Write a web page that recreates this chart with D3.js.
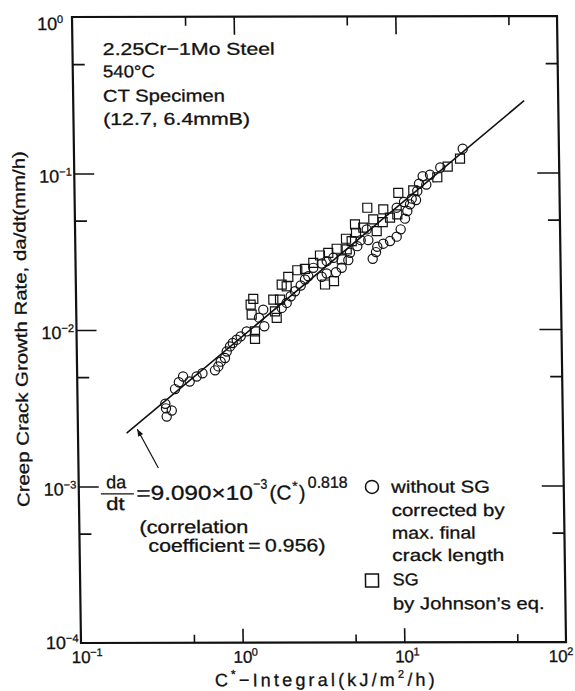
<!DOCTYPE html>
<html><head><meta charset="utf-8">
<script src="https://cdn.jsdelivr.net/npm/d3@7"></script>
<style>
html,body{margin:0;padding:0;background:#fff;}
svg{display:block;}
text{font-family:"Liberation Sans",Arial,sans-serif;fill:#111;stroke:#111;stroke-width:0.3;}
</style></head><body>
<svg id="chart" width="575" height="691"></svg>
<script>
// ---- data ----
const withoutSG_C = [0.355,0.382,0.352,0.349,0.402,0.425,0.452,0.496,0.548,0.596,
  0.713,0.748,0.775,0.824,0.846,0.887,0.923,0.977,1.035,1.129,
  1.436,1.452,1.349,1.867,2.007,2.128,2.264,2.459,2.617,2.745,
  2.953,3.332,3.579,3.934,3.323,3.570,4.076,4.424,4.869,4.995,
  5.550,5.833,6.500,6.367,6.892,7.234,7.378,8.040,8.851,9.745,
  10.33,11.01,11.40,9.804,10.89,11.86,12.16,12.93,13.19,13.54,
  15.02,14.29,15.86,18.39,25.41];
const withoutSG_rate = [0.00279,0.00305,0.00315,0.00337,0.00418,0.00462,0.00503,0.00467,0.00503,0.00527,
  0.00550,0.00583,0.00625,0.00659,0.00726,0.00782,0.00822,0.00863,0.00906,0.00975,
  0.01342,0.01050,0.01193,0.01376,0.01481,0.01632,0.01757,0.01911,0.02087,0.02191,
  0.02478,0.02641,0.02732,0.02871,0.02172,0.02279,0.02323,0.02478,0.02773,0.03091,
  0.03405,0.03720,0.03720,0.04355,0.02829,0.03119,0.03376,0.03528,0.03666,0.03912,
  0.04355,0.05098,0.0570,0.0599,0.0651,0.0629,0.0684,0.0670,0.0765,0.0851,
  0.0841,0.0950,0.0971,0.1080,0.1423];
const SG_C = [1.248,1.201,1.216,1.270,1.268,1.660,1.826,1.696,1.735,1.876,
  2.064,2.014,2.350,2.623,2.956,3.256,3.667,4.137,4.769,4.732,
  5.129,4.431,3.476,3.954,5.395,5.463,6.067,7.337,6.449,7.008,
  8.010,8.099,8.893,9.874,10.06,12.46,17.59,20.44,24.40];
const SG_rate = [0.01571,0.01444,0.01247,0.00975,0.00872,0.01555,0.01555,0.01309,0.01188,0.01939,
  0.02172,0.01891,0.02393,0.02443,0.02668,0.02971,0.03091,0.03279,0.03245,0.03798,
  0.03666,0.02802,0.01939,0.02035,0.04688,0.04148,0.04466,0.04247,0.0599,0.05046,
  0.04849,0.05844,0.05173,0.05430,0.0745,0.0773,0.0936,0.1095,0.1232];
const fitC = [0.2, 61.5];
const fitRate = [0.00219, 0.288];
const arrowC = [0.312, 0.233];
const arrowRate = [0.00131, 0.00232];
const xMajorTicks = [0.1, 1, 10, 100];
const xTickExp = ["\u22121","0","1","2"];
const xMinorTicks = [0.5, 5, 50];
const yMajorTicks = [1, 0.1, 0.01, 0.001, 0.0001];
const yTickExp = ["0","\u22121","\u22122","\u22123","\u22124"];
const yMinorTicks = [0.5, 0.05, 0.005, 0.0005];

// ---- layout ----
const W = 485, H = 626;
const svg = d3.select("#chart");
const g = svg.append("g").attr("transform","matrix(1,-0.002,0.01438,1,72,17)");
const x = d3.scaleLog().domain([0.1,100]).range([0,W]);
const y = d3.scaleLog().domain([1e-4,1]).range([H,0]);

const defs = svg.append("defs");
defs.append("marker").attr("id","ah").attr("viewBox","0 0 10 10")
  .attr("refX",10).attr("refY",5).attr("markerWidth",9).attr("markerHeight",7)
  .attr("markerUnits","userSpaceOnUse").attr("orient","auto")
  .append("path").attr("d","M0,1 L10,5 L0,9 Z").attr("fill","#111");

function axisG(axis){
  const a = g.append("g").call(axis);
  a.select(".domain").remove();
  a.selectAll("line").attr("stroke","#111").attr("stroke-width",1.6);
  a.selectAll("text").remove();
  return a;
}
const innerX = xMajorTicks.filter(v=>v>0.1&&v<100), innerY = yMajorTicks.filter(v=>v<1&&v>1e-4);
axisG(d3.axisLeft(y).tickValues(innerY).tickSize(-20).tickSizeOuter(0));
axisG(d3.axisLeft(y).tickValues(yMinorTicks).tickSize(-12).tickSizeOuter(0));
axisG(d3.axisRight(y).tickValues(innerY).tickSize(-22).tickSizeOuter(0)).attr("transform",`translate(${W},0)`);
axisG(d3.axisRight(y).tickValues(yMinorTicks).tickSize(-12).tickSizeOuter(0)).attr("transform",`translate(${W},0)`);
axisG(d3.axisBottom(x).tickValues(innerX).tickSize(-14).tickSizeOuter(0)).attr("transform",`translate(0,${H})`);
axisG(d3.axisBottom(x).tickValues(xMinorTicks).tickSize(-8).tickSizeOuter(0)).attr("transform",`translate(0,${H})`);
axisG(d3.axisTop(x).tickValues(innerX).tickSize(-18).tickSizeOuter(0));
axisG(d3.axisTop(x).tickValues(xMinorTicks).tickSize(-9).tickSizeOuter(0));

g.append("rect").attr("x",0).attr("y",0).attr("width",W).attr("height",H)
  .attr("fill","none").attr("stroke","#111").attr("stroke-width",2.2);

// y tick labels
yMajorTicks.forEach((v,i)=>{
  const yy = y(v) + (i===0 ? 13 : (i===yMajorTicks.length-1 ? 6 : 9));
  g.append("text").attr("x",-15).attr("y",yy).attr("text-anchor","end")
    .attr("font-size",18).text("10");
  g.append("text").attr("x",-15).attr("y",yy-7).attr("font-size",11).text(yTickExp[i]);
});
// x tick labels
xMajorTicks.forEach((v,i)=>{
  const xx = x(v) + (i===xMajorTicks.length-1 ? -8 : 0);
  g.append("text").attr("x",xx).attr("y",H+20).attr("text-anchor","middle")
    .attr("font-size",17).text("10");
  g.append("text").attr("x",xx+9).attr("y",H+13).attr("font-size",11).text(xTickExp[i]);
});

// axis titles
g.append("text").attr("transform",`translate(-49.5,312) rotate(-90)`)
  .attr("text-anchor","middle").attr("font-size",17)
  .attr("textLength",356).attr("lengthAdjust","spacingAndGlyphs")
  .text("Creep Crack Growth Rate, da/dt(mm/h)");
function txt(s,lx,ly,fs,len,anchor){
  const t = g.append("text").attr("x",lx).attr("y",ly).attr("font-size",fs).text(s);
  if(len) t.attr("textLength",len).attr("lengthAdjust","spacingAndGlyphs");
  if(anchor) t.attr("text-anchor",anchor);
  return t;
}
const xt = g.append("text").attr("x",133.3).attr("y",669.5).attr("font-size",18);
xt.append("tspan").text("C");
xt.append("tspan").attr("dy",-8).attr("font-size",12).text("*");
xt.append("tspan").attr("dy",8).text("\u2212Integral(kJ/m");
xt.append("tspan").attr("dy",-8).attr("font-size",11).text("2");
xt.append("tspan").attr("dy",8).text("/h)");
{
  const L = xt.node().getComputedTextLength();
  const n = xt.text().length;
  xt.attr("letter-spacing", Math.max(0,(223-L)/n));
}

// annotation block
txt("2.25Cr\u22121Mo Steel",30.3,38,17,172);
txt("540\u00b0C",30.1,60.3,17,52);
txt("CT Specimen",29.9,84.7,17,122);
txt("(12.7, 6.4mmB)",29.6,108,17,147);

// fit line
const line = d3.line().x(d=>x(d[0])).y(d=>y(d[1]));
g.append("path").attr("d",line(fitC.map((c,i)=>[c,fitRate[i]])))
  .attr("fill","none").attr("stroke","#111").attr("stroke-width",1.6);
g.append("line").attr("x1",x(arrowC[0])).attr("y1",y(arrowRate[0]))
  .attr("x2",x(arrowC[1])).attr("y2",y(arrowRate[1]))
  .attr("stroke","#111").attr("stroke-width",1.2).attr("marker-end","url(#ah)");

// data
g.append("g").selectAll("circle").data(withoutSG_C).join("circle")
  .attr("cx",d=>x(d)).attr("cy",(d,i)=>y(withoutSG_rate[i])).attr("r",4.6)
  .attr("fill","none").attr("stroke","#111").attr("stroke-width",1.2);
g.append("g").selectAll("rect").data(SG_C).join("rect")
  .attr("x",d=>x(d)-4.5).attr("y",(d,i)=>y(SG_rate[i])-4.5).attr("width",9).attr("height",9)
  .attr("fill","none").attr("stroke","#111").attr("stroke-width",1.2);

// equation
txt("da",37.6,471.3,18,20,"middle");
g.append("line").attr("x1",22).attr("x2",55).attr("y1",477).attr("y2",477)
  .attr("stroke","#111").attr("stroke-width",1.3);
txt("dt",36.4,493,18,18.5,"middle");
txt("=9.090\u00d710",57.5,483,20,116.5);
txt("\u22123",174.5,472,14,14);
txt("(C",190.6,483,20,22);
txt("*",213.5,474,13,5.5);
txt(")",220,483,20,6.5);
txt("0.818",229,471.3,16,40);
txt("(correlation",60,516.3,18,109);
txt("coefficient\u2009=\u20090.956)",68.8,535,18,177);

// legend
g.append("circle").attr("cx",293.2).attr("cy",470.5).attr("r",6.5)
  .attr("fill","none").attr("stroke","#111").attr("stroke-width",1.5);
g.append("rect").attr("x",291.9-6.5).attr("y",564-6.5).attr("width",13).attr("height",13)
  .attr("fill","none").attr("stroke","#111").attr("stroke-width",1.5);
txt("without SG",312.5,476.3,17,98.6);
txt("corrected by",312.5,499.7,17,113);
txt("max. final",312.5,522.3,17,83.6);
txt("crack length",312.5,544.7,17,112);
txt("SG",312.5,569,17,26);
txt("by Johnson\u2019s eq.",312.5,593,17,151.5);
</script>
</body></html>
